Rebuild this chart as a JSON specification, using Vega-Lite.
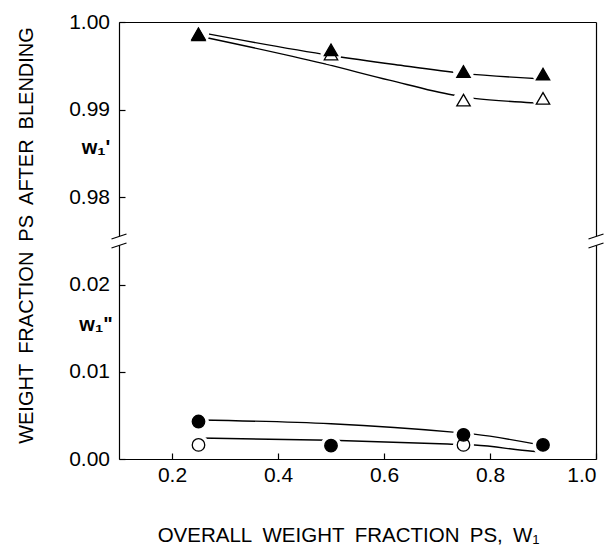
{
  "$schema": "https://vega.github.io/schema/vega-lite/v6.json",
  "padding": {"left": 15, "top": 11, "right": 0, "bottom": 0},
  "bounds": "flush",
  "spacing": 0,
  "config": {
    "view": {"stroke": null},
    "axis": {
      "grid": false,
      "domainColor": "black",
      "domainWidth": 1.2,
      "tickColor": "black",
      "tickWidth": 1.2,
      "tickSize": -6,
      "labelFont": "Liberation Sans",
      "labelFontSize": 21,
      "labelColor": "black",
      "titleColor": "black",
      "titleFont": "Liberation Sans",
      "titleFontWeight": "normal"
    }
  },
  "datasets": {
    "upper_lines": [
      {"x": 0.25, "y": 0.99884, "s": "filled"},
      {"x": 0.5, "y": 0.99618, "s": "filled"},
      {"x": 0.62, "y": 0.99515, "s": "filled"},
      {"x": 0.75, "y": 0.99414, "s": "filled"},
      {"x": 0.9, "y": 0.9935, "s": "filled"},
      {"x": 0.25, "y": 0.9984, "s": "open"},
      {"x": 0.4845, "y": 0.99527, "s": "open"},
      {"x": 0.61, "y": 0.99336, "s": "open"},
      {"x": 0.73, "y": 0.99166, "s": "open"},
      {"x": 0.77, "y": 0.99128, "s": "open"},
      {"x": 0.884, "y": 0.99077, "s": "open"},
      {"x": 0.9, "y": 0.9907, "s": "open"}
    ],
    "upper_pts": [
      {"x": 0.25, "y": 0.99855, "s": "open"},
      {"x": 0.5, "y": 0.99635, "s": "open"},
      {"x": 0.75, "y": 0.99108, "s": "open"},
      {"x": 0.9, "y": 0.99128, "s": "open"},
      {"x": 0.25, "y": 0.99866, "s": "filled"},
      {"x": 0.5, "y": 0.99682, "s": "filled"},
      {"x": 0.75, "y": 0.99435, "s": "filled"},
      {"x": 0.9, "y": 0.99405, "s": "filled"}
    ],
    "lower_lines": [
      {"x": 0.25, "y": 0.00448, "s": "filled"},
      {"x": 0.5, "y": 0.00404, "s": "filled"},
      {"x": 0.73, "y": 0.00308, "s": "filled"},
      {"x": 0.77, "y": 0.00285, "s": "filled"},
      {"x": 0.887, "y": 0.0017, "s": "filled"},
      {"x": 0.9, "y": 0.00155, "s": "filled"},
      {"x": 0.25, "y": 0.0024, "s": "open"},
      {"x": 0.5, "y": 0.00215, "s": "open"},
      {"x": 0.727, "y": 0.0017, "s": "open"},
      {"x": 0.771, "y": 0.0016, "s": "open"},
      {"x": 0.88, "y": 0.00089, "s": "open"},
      {"x": 0.9, "y": 0.0008, "s": "open"}
    ],
    "lower_pts": [
      {"x": 0.25, "y": 0.00161, "s": "open"},
      {"x": 0.75, "y": 0.00161, "s": "open"},
      {"x": 0.25, "y": 0.0043, "s": "filled"},
      {"x": 0.5, "y": 0.00153, "s": "filled"},
      {"x": 0.75, "y": 0.00277, "s": "filled"},
      {"x": 0.9, "y": 0.00161, "s": "filled"}
    ],
    "breaks": [
      {"x": 0.1, "y": 0.025},
      {"x": 1.0, "y": 0.025}
    ]
  },
  "vconcat": [
    {
      "width": 477,
      "height": 219,
      "resolve": {"axis": {"x": "independent", "y": "independent"}},
      "layer": [
        {
          "data": {"name": "upper_lines"},
          "mark": {"type": "line", "color": "black", "strokeWidth": 1.4, "interpolate": "monotone"},
          "encoding": {
            "x": {"field": "x", "type": "quantitative", "scale": {"domain": [0.1, 1.0]},
                  "axis": {"orient": "top", "labels": false, "ticks": false, "title": null}},
            "y": {"field": "y", "type": "quantitative", "scale": {"domain": [0.975, 1.0]},
                  "axis": {"values": [0.98, 0.99, 1.0], "format": ".2f", "title": null, "labelPadding": 15.5}},
            "detail": {"field": "s"}
          }
        },
        {
          "data": {"name": "upper_pts"},
          "mark": {"type": "point", "shape": "circle", "filled": true, "color": "white", "size": 440, "opacity": 1},
          "encoding": {
            "x": {"field": "x", "type": "quantitative", "scale": {"domain": [0.1, 1.0]}, "axis": null},
            "y": {"field": "y", "type": "quantitative", "scale": {"domain": [0.975, 1.0]},
                  "axis": {"orient": "right", "labels": false, "ticks": false, "title": null}}
          }
        },
        {
          "data": {"name": "upper_pts"},
          "mark": {"type": "point", "shape": "triangle-up", "filled": true, "size": 180, "stroke": "black", "strokeWidth": 1.3, "opacity": 1},
          "encoding": {
            "x": {"field": "x", "type": "quantitative", "scale": {"domain": [0.1, 1.0]}, "axis": null},
            "y": {"field": "y", "type": "quantitative", "scale": {"domain": [0.975, 1.0]}, "axis": null},
            "fill": {"field": "s", "type": "nominal", "scale": {"domain": ["filled", "open"], "range": ["black", "white"]}, "legend": null}
          }
        },
        {
          "data": {"values": [{"x": 0.1, "y": 0.9849, "t": "w₁'"}]},
          "mark": {"type": "text", "dx": -23, "font": "Liberation Sans", "fontWeight": "bold", "fontSize": 20, "align": "center", "baseline": "alphabetic", "color": "black"},
          "encoding": {
            "x": {"field": "x", "type": "quantitative", "scale": {"domain": [0.1, 1.0]}, "axis": null},
            "y": {"field": "y", "type": "quantitative", "scale": {"domain": [0.975, 1.0]}, "axis": null},
            "text": {"field": "t"}
          }
        }
      ]
    },
    {
      "width": 477,
      "height": 218,
      "resolve": {"axis": {"x": "independent", "y": "independent"}},
      "layer": [
        {
          "data": {"name": "lower_lines"},
          "mark": {"type": "line", "color": "black", "strokeWidth": 1.4, "interpolate": "monotone"},
          "encoding": {
            "x": {"field": "x", "type": "quantitative", "scale": {"domain": [0.1, 1.0]},
                  "axis": {"values": [0.2, 0.4, 0.6, 0.8, 1.0], "format": ".1f", "labelPadding": 11,
                           "title": "OVERALL\u2002WEIGHT\u2002FRACTION\u2002PS,\u2002W₁", "titleFontSize": 20.5,
                           "titleX": 229, "titleY": 82, "titleBaseline": "alphabetic", "titleAlign": "center"}},
            "y": {"field": "y", "type": "quantitative", "scale": {"domain": [0, 0.025]},
                  "axis": {"values": [0, 0.01, 0.02], "format": ".2f", "labelPadding": 15.5,
                           "title": "WEIGHT\u2002FRACTION\u2002PS\u2002AFTER\u2002BLENDING", "titleFontSize": 20,
                           "titleAngle": -90, "titleX": -93, "titleY": -6, "titleAlign": "center", "titleBaseline": "middle"}},
            "detail": {"field": "s"}
          }
        },
        {
          "data": {"name": "lower_pts"},
          "mark": {"type": "point", "shape": "circle", "filled": true, "color": "white", "size": 440, "opacity": 1},
          "encoding": {
            "x": {"field": "x", "type": "quantitative", "scale": {"domain": [0.1, 1.0]}, "axis": null},
            "y": {"field": "y", "type": "quantitative", "scale": {"domain": [0, 0.025]},
                  "axis": {"orient": "right", "labels": false, "ticks": false, "title": null}}
          }
        },
        {
          "data": {"name": "lower_pts"},
          "mark": {"type": "point", "shape": "circle", "filled": true, "size": 156, "stroke": "black", "strokeWidth": 1.3, "opacity": 1},
          "encoding": {
            "x": {"field": "x", "type": "quantitative", "scale": {"domain": [0.1, 1.0]}, "axis": null},
            "y": {"field": "y", "type": "quantitative", "scale": {"domain": [0, 0.025]}, "axis": null},
            "fill": {"field": "s", "type": "nominal", "scale": {"domain": ["filled", "open"], "range": ["black", "white"]}, "legend": null}
          }
        },
        {
          "data": {"values": [{"x": 0.1, "y": 0.01465, "t": "w₁\""}]},
          "mark": {"type": "text", "dx": -23, "font": "Liberation Sans", "fontWeight": "bold", "fontSize": 20, "align": "center", "baseline": "alphabetic", "color": "black"},
          "encoding": {
            "x": {"field": "x", "type": "quantitative", "scale": {"domain": [0.1, 1.0]}, "axis": null},
            "y": {"field": "y", "type": "quantitative", "scale": {"domain": [0, 0.025]}, "axis": null},
            "text": {"field": "t"}
          }
        },
        {
          "data": {"name": "breaks"},
          "mark": {"type": "point", "shape": "M-0.94,-0.25L0.94,-0.875L0.94,0.25L-0.94,0.875Z", "filled": true, "color": "white", "size": 256, "opacity": 1},
          "encoding": {
            "x": {"field": "x", "type": "quantitative", "scale": {"domain": [0.1, 1.0]}, "axis": null},
            "y": {"field": "y", "type": "quantitative", "scale": {"domain": [0, 0.025]}, "axis": null}
          }
        },
        {
          "data": {"name": "breaks"},
          "mark": {"type": "point", "shape": "M-0.94,-0.25L0.94,-0.875M-0.94,0.875L0.94,0.25", "filled": false, "color": "black", "strokeWidth": 1.2, "size": 256, "opacity": 1},
          "encoding": {
            "x": {"field": "x", "type": "quantitative", "scale": {"domain": [0.1, 1.0]}, "axis": null},
            "y": {"field": "y", "type": "quantitative", "scale": {"domain": [0, 0.025]}, "axis": null}
          }
        }
      ]
    }
  ]
}
